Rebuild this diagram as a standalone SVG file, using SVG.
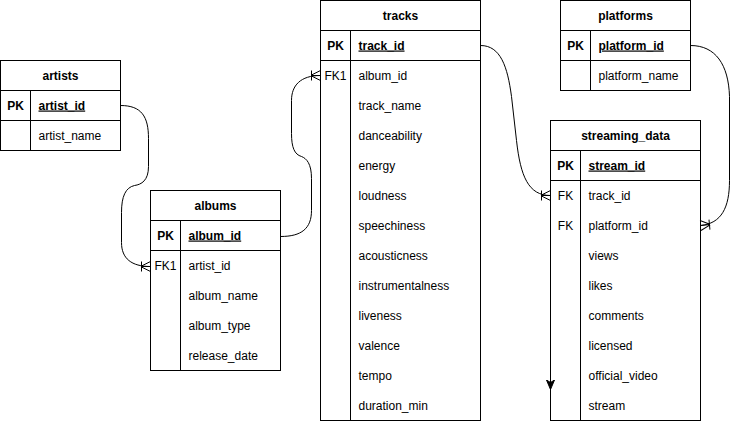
<svg xmlns="http://www.w3.org/2000/svg" width="732" height="422" viewBox="0 0 732 422">
  <style>
    .box { fill: #ffffff; stroke: #000000; stroke-width: 1; }
    .rule { stroke: #000000; stroke-width: 1; fill: none; }
    .title { font-family: "Liberation Sans", Arial, sans-serif; font-size: 12px; font-weight: bold; text-anchor: middle; fill: #000000; }
    .key { font-family: "Liberation Sans", Arial, sans-serif; font-size: 12px; text-anchor: middle; fill: #000000; }
    .pk { font-weight: bold; }
    .field { font-family: "Liberation Sans", Arial, sans-serif; font-size: 12px; fill: #000000; }
    .pkfield { font-weight: bold; text-decoration: underline; }
    .link { fill: none; stroke: #000000; stroke-width: 1; }
  </style>
  <defs>
    <!-- one-to-many crow's foot: bar + three prongs spreading to the entity edge -->
    <marker id="crowfoot" viewBox="0 0 11 12" refX="10" refY="6" markerWidth="11" markerHeight="12" markerUnits="userSpaceOnUse" orient="auto">
      <path d="M0,6 L10,1 M0,6 L10,11 M0,6 L10,6 M1,1 L1,11" fill="none" stroke="#000000" stroke-width="1"/>
    </marker>
    <!-- classic filled arrowhead with notched back -->
    <marker id="classic" viewBox="0 0 11 11" refX="10" refY="5.5" markerWidth="11" markerHeight="11" markerUnits="userSpaceOnUse" orient="auto">
      <path d="M0.5,1.5 L10,5.5 L0.5,9.5 L3,5.5 Z" fill="#000000" stroke="#000000" stroke-width="1" stroke-linejoin="miter"/>
    </marker>
  </defs>

  <g transform="translate(0.5,0.5)">
    <!-- artists -->
    <g id="artists">
      <rect class="box" x="0" y="60" width="120" height="90"/>
      <line class="rule" x1="0" y1="90" x2="120" y2="90"/>
      <line class="rule" x1="0" y1="120" x2="120" y2="120"/>
      <line class="rule" x1="30" y1="90" x2="30" y2="150"/>
      <text class="title" x="60" y="79">artists</text>
      <text class="key pk" x="15" y="109">PK</text>
      <text class="field pkfield" x="38" y="109">artist_id</text>
      <text class="field" x="38" y="139">artist_name</text>
    </g>

    <!-- albums -->
    <g id="albums">
      <rect class="box" x="150" y="190" width="130" height="180"/>
      <line class="rule" x1="150" y1="220" x2="280" y2="220"/>
      <line class="rule" x1="150" y1="250" x2="280" y2="250"/>
      <line class="rule" x1="180" y1="220" x2="180" y2="370"/>
      <text class="title" x="215" y="209">albums</text>
      <text class="key pk" x="165" y="239">PK</text>
      <text class="field pkfield" x="188" y="239">album_id</text>
      <text class="key" x="165" y="269">FK1</text>
      <text class="field" x="188" y="269">artist_id</text>
      <text class="field" x="188" y="299">album_name</text>
      <text class="field" x="188" y="329">album_type</text>
      <text class="field" x="188" y="359">release_date</text>
    </g>

    <!-- tracks -->
    <g id="tracks">
      <rect class="box" x="320" y="0" width="160" height="420"/>
      <line class="rule" x1="320" y1="30" x2="480" y2="30"/>
      <line class="rule" x1="320" y1="60" x2="480" y2="60"/>
      <line class="rule" x1="350" y1="30" x2="350" y2="420"/>
      <text class="title" x="400" y="19">tracks</text>
      <text class="key pk" x="335" y="49">PK</text>
      <text class="field pkfield" x="358" y="49">track_id</text>
      <text class="key" x="335" y="79">FK1</text>
      <text class="field" x="358" y="79">album_id</text>
      <text class="field" x="358" y="109">track_name</text>
      <text class="field" x="358" y="139">danceability</text>
      <text class="field" x="358" y="169">energy</text>
      <text class="field" x="358" y="199">loudness</text>
      <text class="field" x="358" y="229">speechiness</text>
      <text class="field" x="358" y="259">acousticness</text>
      <text class="field" x="358" y="289">instrumentalness</text>
      <text class="field" x="358" y="319">liveness</text>
      <text class="field" x="358" y="349">valence</text>
      <text class="field" x="358" y="379">tempo</text>
      <text class="field" x="358" y="409">duration_min</text>
    </g>

    <!-- platforms -->
    <g id="platforms">
      <rect class="box" x="560" y="0" width="130" height="90"/>
      <line class="rule" x1="560" y1="30" x2="690" y2="30"/>
      <line class="rule" x1="560" y1="60" x2="690" y2="60"/>
      <line class="rule" x1="590" y1="30" x2="590" y2="90"/>
      <text class="title" x="625" y="19">platforms</text>
      <text class="key pk" x="575" y="49">PK</text>
      <text class="field pkfield" x="598" y="49">platform_id</text>
      <text class="field" x="598" y="79">platform_name</text>
    </g>

    <!-- streaming_data -->
    <g id="streaming_data">
      <rect class="box" x="550" y="120" width="150" height="300"/>
      <line class="rule" x1="550" y1="150" x2="700" y2="150"/>
      <line class="rule" x1="550" y1="180" x2="700" y2="180"/>
      <line class="rule" x1="580" y1="150" x2="580" y2="420"/>
      <text class="title" x="625" y="139">streaming_data</text>
      <text class="key pk" x="565" y="169">PK</text>
      <text class="field pkfield" x="588" y="169">stream_id</text>
      <text class="key" x="565" y="199">FK</text>
      <text class="field" x="588" y="199">track_id</text>
      <text class="key" x="565" y="229">FK</text>
      <text class="field" x="588" y="229">platform_id</text>
      <text class="field" x="588" y="259">views</text>
      <text class="field" x="588" y="289">likes</text>
      <text class="field" x="588" y="319">comments</text>
      <text class="field" x="588" y="349">licensed</text>
      <text class="field" x="588" y="379">official_video</text>
      <text class="field" x="588" y="409">stream</text>
    </g>

    <!-- connectors, drawn over the tables -->
    <g id="connectors">
      <path id="artists-albums" class="link" marker-end="url(#crowfoot)"
            d="M120,105 C141,105 148,116 148,138 L148,166 C148,180 141,184 134,185 C125,187 121,196 121,212 L121,242 C121,258 131,266 150,266"/>
      <path id="albums-tracks" class="link" marker-end="url(#crowfoot)"
            d="M280,236 C301,236 311,228 311,210 L311,178 C311,163 306,158 301,156 C294,154 291,147 291,133 L291,100 C291,85 300,75 320,75"/>
      <path id="tracks-streaming" class="link" marker-end="url(#crowfoot)"
            d="M480,45 C500,45 507,66 511,96 L516,140 C520,176 528,195 550,195"/>
      <path id="platforms-streaming" class="link" marker-end="url(#crowfoot)"
            d="M690,45 C715,45 728,64 729,96 L729,180 C729,207 721,223 700,225"/>
      <path id="stray-arrow" class="link" marker-end="url(#classic)" d="M550,365 L550,389"/>
    </g>
  </g>
</svg>
